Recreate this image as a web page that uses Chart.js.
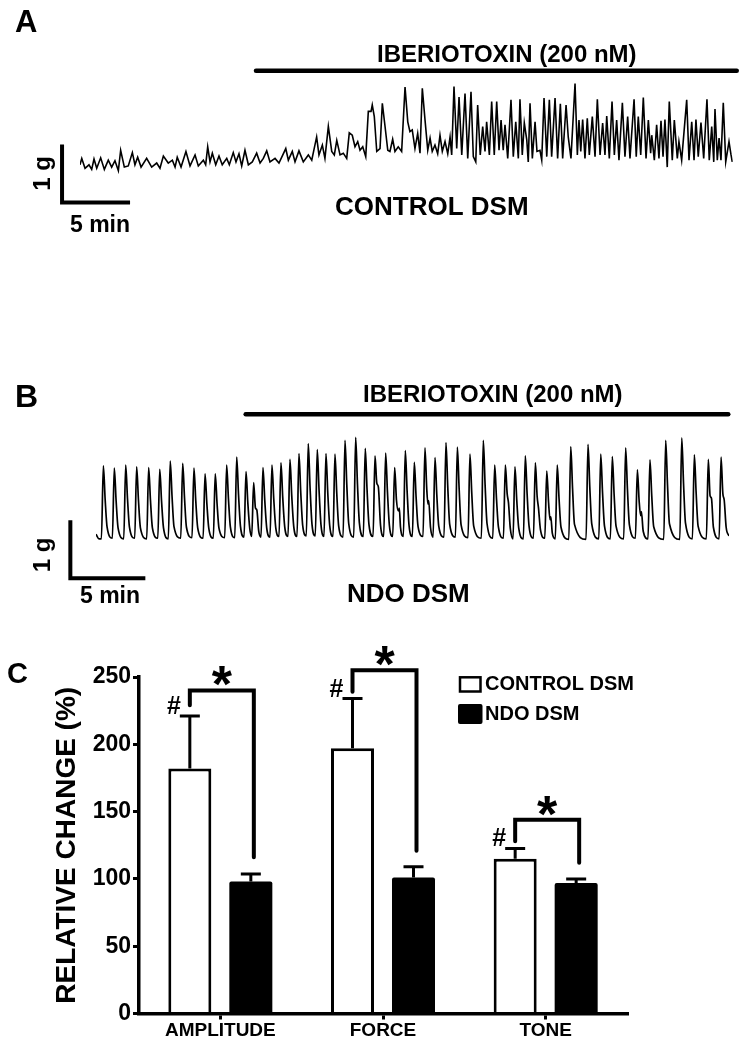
<!DOCTYPE html>
<html>
<head>
<meta charset="utf-8">
<script src="https://cdn.jsdelivr.net/npm/chart.js@4.4.1/dist/chart.umd.min.js"></script>
<style>
  html, body { margin: 0; padding: 0; background: #fff; }
  #wrap { position: relative; width: 744px; height: 1045px; overflow: hidden; }
  canvas { position: absolute; left: 0; }
</style>
</head>
<body>
<div id="wrap">
  <canvas id="traceA" width="744" height="240" style="top:0px"></canvas>
  <canvas id="traceB" width="744" height="280" style="top:340px"></canvas>
  <canvas id="bars" width="744" height="425" style="top:620px"></canvas>
</div>
<script>
// ---- data ----
// trace A: control DSM, [minutes, grams above resting tone]
const traceA = [
  [0.00,0.09],[0.13,0.20],[0.37,0.03],[0.66,0.09],[0.86,0.01],[1.03,0.19],[1.23,0.03],[1.52,0.21],[1.79,0.01],[2.08,0.17],
  [2.33,0.05],[2.57,0.16],[2.82,-0.01],[2.99,0.34],[3.26,0.05],[3.55,0.07],[3.85,0.30],[4.04,0.09],[4.24,0.22],[4.49,0.05],
  [4.90,0.20],[5.27,0.05],[5.64,0.12],[5.88,0.03],[6.13,0.24],[6.49,0.12],[6.79,0.17],[6.99,0.05],[7.15,0.22],[7.43,0.05],
  [7.79,0.32],[8.09,0.07],[8.46,0.26],[8.70,0.07],[9.07,0.17],[9.24,0.09],[9.39,0.40],[9.56,0.14],[9.73,0.29],[9.98,0.09],
  [10.22,0.24],[10.46,0.09],[10.79,0.20],[10.98,0.09],[11.27,0.30],[11.47,0.14],[11.69,0.28],[11.89,0.07],[12.13,0.34],[12.38,0.09],
  [12.67,0.14],[12.99,0.29],[13.24,0.12],[13.48,0.20],[13.73,0.33],[13.97,0.14],[14.34,0.20],[14.63,0.12],[15.13,0.37],[15.32,0.17],
  [15.61,0.32],[15.81,0.14],[16.10,0.33],[16.42,0.14],[16.79,0.26],[17.04,0.17],[17.40,0.57],[17.57,0.26],[17.82,0.43],[18.01,0.20],
  [18.26,0.75],[18.51,0.32],[18.70,0.26],[18.88,0.51],[19.12,0.26],[19.36,0.29],[19.61,0.20],[19.80,0.64],[20.02,0.60],[20.22,0.40],
  [20.42,0.49],[20.59,0.34],[20.79,0.40],[21.01,0.23],[21.20,1.01],[21.40,1.01],[21.49,1.12],[21.64,0.92],[21.82,0.32],[22.06,0.37],
  [22.23,1.15],[22.43,0.75],[22.63,0.34],[22.79,0.32],[22.99,0.53],[23.16,0.32],[23.40,0.40],[23.65,0.32],[23.90,1.43],[24.10,0.83],
  [24.26,0.66],[24.43,0.69],[24.63,0.37],[24.83,0.63],[25.00,0.29],[25.17,1.41],[25.37,0.86],[25.57,0.34],[25.74,0.55],[25.90,0.32],
  [26.10,0.43],[26.30,0.28],[26.47,0.60],[26.64,0.32],[26.84,0.49],[27.04,0.28],[27.21,0.57],[27.33,0.26],[27.50,1.44],[27.70,0.37],
  [27.87,1.26],[28.07,0.26],[28.31,1.32],[28.51,0.20],[28.75,1.35],[28.92,0.23],[29.10,0.14],[29.24,1.12],[29.43,0.26],[29.61,0.75],
  [29.78,0.32],[29.90,0.83],[30.10,0.26],[30.27,1.18],[30.46,0.26],[30.64,1.18],[30.81,0.34],[30.96,0.86],[31.12,0.34],[31.25,0.78],
  [31.45,0.20],[31.69,1.21],[31.86,0.23],[32.04,0.83],[32.23,0.20],[32.35,1.22],[32.52,0.26],[32.67,0.81],[32.85,0.52],[32.96,0.14],
  [33.09,1.15],[33.26,0.20],[33.46,0.83],[33.60,0.32],[33.82,0.34],[33.95,0.17],[34.12,1.24],[34.32,0.23],[34.51,1.21],[34.68,0.23],
  [34.93,1.24],[35.12,0.20],[35.32,1.14],[35.49,0.20],[35.74,1.12],[35.90,0.57],[36.10,0.20],[36.40,1.49],[36.57,0.26],[36.69,0.86],
  [36.82,0.32],[36.96,0.87],[37.13,0.20],[37.30,0.89],[37.45,0.26],[37.67,0.92],[37.87,0.23],[38.04,1.22],[38.24,0.26],[38.43,0.81],
  [38.60,0.26],[38.73,0.93],[38.92,0.20],[39.12,1.18],[39.29,0.26],[39.46,0.86],[39.63,0.17],[39.88,1.16],[40.07,0.23],[40.27,0.92],
  [40.44,0.20],[40.74,1.22],[40.90,0.23],[41.05,0.92],[41.23,0.26],[41.42,1.25],[41.62,0.20],[41.79,0.86],[41.96,0.29],[42.04,0.60],
  [42.23,0.17],[42.40,0.78],[42.57,0.20],[42.72,0.85],[42.87,0.23],[43.01,0.87],[43.18,0.05],[43.33,1.18],[43.55,0.17],[43.70,0.86],
  [43.92,0.20],[44.04,0.49],[44.24,0.17],[44.61,1.21],[44.78,0.17],[44.98,0.83],[45.15,0.17],[45.29,0.87],[45.46,0.23],[45.66,0.82],
  [45.86,0.20],[46.10,1.22],[46.27,0.17],[46.45,0.75],[46.60,0.14],[46.69,1.05],[46.86,0.17],[46.99,0.55],[47.13,0.17],[47.30,1.16],
  [47.48,0.14],[47.72,0.49],[47.87,0.26],[47.96,0.14]
];

// trace B: NDO DSM, one line per contraction (foot, peak, decay...)
const traceB = [
  [0.00,0.10],[0.20,0.02],
  [0.36,0.02],[0.49,1.28],[0.61,0.70],[0.74,0.22],
  [1.09,0.03],[1.22,1.24],[1.34,0.68],[1.47,0.21],
  [1.85,0.02],[1.98,1.29],[2.10,0.71],[2.23,0.22],
  [2.58,0.03],[2.71,1.26],[2.83,0.69],[2.96,0.21],
  [3.38,0.02],[3.51,1.25],[3.63,0.69],[3.76,0.21],
  [4.12,0.03],[4.25,1.22],[4.37,0.67],[4.50,0.21],
  [4.82,0.02],[4.95,1.36],[5.07,0.75],[5.20,0.23],
  [5.65,0.03],[5.78,1.32],[5.90,0.73],[6.03,0.22],
  [6.40,0.04],[6.53,1.24],[6.65,0.68],[6.78,0.21],
  [7.14,0.03],[7.27,1.14],[7.39,0.63],[7.52,0.20],
  [7.82,0.03],[7.95,1.14],[8.07,0.63],[8.20,0.20],
  [8.58,0.04],[8.71,1.29],[8.83,0.71],[8.96,0.22],
  [9.25,0.04],[9.38,1.43],[9.50,0.79],[9.63,0.24],
  [9.87,0.05],[10.00,1.18],[10.12,0.65],[10.25,0.20],
  [10.38,0.06],[10.51,0.99],[10.63,0.55],[10.72,0.52],[10.85,0.15],
  [11.00,0.05],[11.13,1.25],[11.25,0.69],[11.38,0.21],
  [11.60,0.05],[11.73,1.29],[11.85,0.71],[11.98,0.22],
  [12.20,0.06],[12.33,1.33],[12.45,0.73],[12.58,0.23],
  [12.80,0.06],[12.93,1.39],[13.05,0.76],[13.18,0.24],
  [13.40,0.06],[13.53,1.49],[13.65,0.82],[13.78,0.25],
  [14.02,0.07],[14.15,1.66],[14.27,0.91],[14.40,0.27],
  [14.62,0.07],[14.75,1.56],[14.87,0.86],[15.00,0.26],
  [15.20,0.06],[15.33,1.49],[15.45,0.82],[15.58,0.25],
  [15.80,0.06],[15.93,1.48],[16.05,0.81],[16.18,0.24],
  [16.47,0.05],[16.60,1.72],[16.72,0.95],[16.85,0.28],
  [17.18,0.05],[17.31,1.77],[17.43,0.97],[17.56,0.29],
  [17.82,0.06],[17.95,1.58],[18.07,0.87],[18.20,0.26],
  [18.47,0.06],[18.60,1.45],[18.72,0.98],[18.82,0.92],[18.97,0.25],
  [19.18,0.06],[19.31,1.50],[19.43,0.83],[19.56,0.25],
  [19.78,0.06],[19.91,1.25],[20.03,0.69],[20.16,0.50],[20.22,0.55],[20.30,0.22],
  [20.49,0.06],[20.62,1.54],[20.74,0.85],[20.87,0.25],
  [21.09,0.06],[21.22,1.34],[21.34,0.74],[21.47,0.23],
  [21.80,0.06],[21.93,1.59],[22.05,0.88],[22.13,0.62],[22.18,0.68],[22.30,0.22],
  [22.47,0.05],[22.60,1.42],[22.72,0.78],[22.85,0.24],
  [23.20,0.05],[23.33,1.68],[23.45,0.92],[23.58,0.27],
  [23.96,0.05],[24.09,1.60],[24.21,0.88],[24.34,0.26],
  [24.80,0.04],[24.93,1.48],[25.05,0.81],[25.18,0.24],
  [25.69,0.03],[25.82,1.72],[25.94,0.95],[26.07,0.28],
  [26.45,0.03],[26.58,1.29],[26.70,0.71],[26.83,0.22],
  [27.16,0.03],[27.29,1.29],[27.41,0.80],[27.50,0.64],[27.62,0.20],
  [27.80,0.02],[27.93,1.26],[28.05,0.69],[28.18,0.21],
  [28.49,0.02],[28.62,1.45],[28.74,0.80],[28.87,0.24],
  [29.16,0.03],[29.29,1.33],[29.41,0.75],[29.50,0.55],[29.63,0.18],
  [29.92,0.03],[30.05,1.19],[30.17,0.65],[30.27,0.35],[30.32,0.40],[30.42,0.12],
  [30.62,0.02],[30.75,1.29],[30.87,0.71],[31.00,0.22],
  [31.52,0.01],[31.65,1.61],[31.77,0.89],[31.90,0.27],
  [32.67,0.01],[32.80,1.65],[32.92,0.91],[33.05,0.28],
  [33.52,0.02],[33.65,1.48],[33.77,0.81],[33.90,0.24],
  [34.29,0.02],[34.42,1.44],[34.54,0.79],[34.67,0.24],
  [35.18,0.02],[35.31,1.59],[35.43,0.87],[35.56,0.26],
  [35.96,0.03],[36.09,1.21],[36.21,0.67],[36.31,0.42],[36.36,0.49],[36.48,0.15],
  [36.80,0.02],[36.93,1.38],[37.05,0.76],[37.18,0.23],
  [37.85,0.01],[37.98,1.72],[38.10,0.95],[38.23,0.28],
  [38.92,0.01],[39.05,1.76],[39.17,0.97],[39.30,0.29],
  [39.76,0.02],[39.89,1.47],[40.01,0.81],[40.14,0.24],
  [40.69,0.02],[40.82,1.39],[40.94,0.76],[41.03,0.72],[41.16,0.22],
  [41.54,0.02],[41.67,1.43],[41.79,0.80],[41.88,0.69],[42.01,0.22],
  [42.20,0.07]
];

// iberiotoxin application [start min, end min]
const toxinA = [12.94, 48.29];
const toxinB = [9.98, 42.15];

// calibration bars
const scaleMinutes = 5;
const scaleGrams = 1;

// panel C
const categories = ['AMPLITUDE', 'FORCE', 'TONE'];
const controlMean = [182, 197, 115];
const controlSem = [39, 37, 7.6];
const ndoMean = [98, 101, 97];
const ndoSem = [5.7, 8, 3];
// significance brackets: left leg end, top, right leg end (% units)
const bracketLeft = [229, 239, 128];
const bracketTop = [240, 255, 144];
const bracketRight = [116, 121, 112];

const FONT = "'Liberation Sans', Arial, sans-serif";
Chart.defaults.font.family = FONT;
Chart.defaults.color = '#000';

function drawTexts(ctx, texts) {
  texts.forEach(t => {
    ctx.save();
    ctx.font = `bold ${t.size}px ${FONT}`;
    ctx.fillStyle = '#000';
    ctx.textAlign = t.align || 'left';
    ctx.textBaseline = t.baseline || 'alphabetic';
    ctx.translate(t.x, t.y);
    if (t.rotate) ctx.rotate(t.rotate);
    ctx.fillText(t.text, 0, 0);
    ctx.restore();
  });
}

// toxin bar, calibration bars and labels for the force traces
const traceMarks = {
  id: 'traceMarks',
  afterDraw(chart, args, opts) {
    const { ctx } = chart;
    const x = chart.scales.x, y = chart.scales.y;
    ctx.save();
    ctx.strokeStyle = '#000';

    ctx.lineWidth = 4.5;
    ctx.lineCap = 'round';
    ctx.beginPath();
    ctx.moveTo(x.getPixelForValue(opts.toxin[0]), y.getPixelForValue(opts.toxinLevel));
    ctx.lineTo(x.getPixelForValue(opts.toxin[1]), y.getPixelForValue(opts.toxinLevel));
    ctx.stroke();

    const x0 = x.getPixelForValue(opts.calib[0]);
    const y0 = y.getPixelForValue(opts.calib[1]);
    const x1 = x.getPixelForValue(opts.calib[0] + scaleMinutes);
    const y1 = y.getPixelForValue(opts.calib[1] + scaleGrams);
    ctx.lineWidth = 4;
    ctx.lineCap = 'butt';
    ctx.lineJoin = 'miter';
    ctx.beginPath();
    ctx.moveTo(x0, y1);
    ctx.lineTo(x0, y0);
    ctx.lineTo(x1, y0);
    ctx.stroke();
    ctx.restore();

    drawTexts(ctx, opts.texts);
  }
};

function traceChart(id, points, width, tMax, gMin, gMax, padding, marks) {
  return new Chart(document.getElementById(id), {
    type: 'line',
    data: {
      datasets: [{
        data: points.map(p => ({ x: p[0], y: p[1] })),
        borderColor: '#000',
        borderWidth: width,
        pointRadius: 0,
        tension: 0,
        cubicInterpolationMode: id === 'traceB' ? 'monotone' : 'default',
        fill: false
      }]
    },
    options: {
      responsive: false,
      animation: false,
      layout: { padding: padding },
      plugins: { legend: { display: false }, tooltip: { enabled: false }, traceMarks: marks },
      scales: {
        x: { type: 'linear', min: 0, max: tMax, display: false },
        y: { type: 'linear', min: gMin, max: gMax, display: false }
      }
    },
    plugins: [traceMarks]
  });
}

traceChart('traceA', traceA, 1.6, 48, -1, 2.8, { left: 80, right: 11.2, top: 7.6, bottom: 12 }, {
  toxin: toxinA, toxinLevel: 1.71, calib: [-1.32, -0.56],
  texts: [
    { text: 'A', x: 15, y: 32, size: 31 },
    { text: 'IBERIOTOXIN (200 nM)', x: 377, y: 61.5, size: 24 },
    { text: '1 g', x: 43, y: 173.5, size: 24, align: 'center', baseline: 'middle', rotate: -Math.PI / 2 },
    { text: '5 min', x: 100, y: 231.5, size: 23, align: 'center' },
    { text: 'CONTROL DSM', x: 335, y: 215, size: 26 }
  ]
});

traceChart('traceB', traceB, 1.7, 42.2, -1.2, 3.2, { left: 96, right: 15, top: 14.4, bottom: 10.4 }, {
  toxin: toxinB, toxinLevel: 2.17, calib: [-1.71, -0.66],
  texts: [
    { text: 'B', x: 15, y: 67, size: 32 },
    { text: 'IBERIOTOXIN (200 nM)', x: 363, y: 61.7, size: 24 },
    { text: '1 g', x: 43, y: 215, size: 24, align: 'center', baseline: 'middle', rotate: -Math.PI / 2 },
    { text: '5 min', x: 110, y: 263, size: 23, align: 'center' },
    { text: 'NDO DSM', x: 347, y: 261.7, size: 26 }
  ]
});

// error bars, brackets, legend for panel C
const barMarks = {
  id: 'barMarks',
  afterDatasetsDraw(chart) {
    const { ctx } = chart;
    const y = chart.scales.y;
    const m0 = chart.getDatasetMeta(0), m1 = chart.getDatasetMeta(1);
    ctx.save();
    ctx.strokeStyle = '#000';
    ctx.fillStyle = '#000';

    chart.data.datasets.forEach((ds, di) => {
      chart.getDatasetMeta(di).data.forEach((bar, i) => {
        const top = y.getPixelForValue(ds.data[i] + ds.errors[i]);
        ctx.lineWidth = 3;
        ctx.lineCap = 'butt';
        ctx.beginPath();
        ctx.moveTo(bar.x, bar.y);
        ctx.lineTo(bar.x, top);
        ctx.moveTo(bar.x - 10, top);
        ctx.lineTo(bar.x + 10, top);
        ctx.stroke();
      });
    });

    categories.forEach((c, i) => {
      const xl = m0.data[i].x;
      const xr = m1.data[i].x + 3;
      const yl = y.getPixelForValue(bracketLeft[i]);
      const yt = y.getPixelForValue(bracketTop[i]);
      const yr = y.getPixelForValue(bracketRight[i]);
      ctx.lineWidth = 4;
      ctx.lineJoin = 'miter';
      ctx.lineCap = 'round';
      ctx.beginPath();
      ctx.moveTo(xl, yl);
      ctx.lineTo(xl, yt);
      ctx.lineTo(xr, yt);
      ctx.lineTo(xr, yr);
      ctx.stroke();

      ctx.font = `bold 52px ${FONT}`;
      ctx.textAlign = 'center';
      ctx.textBaseline = 'alphabetic';
      let mt = ctx.measureText('*');
      const cy = yt - 14;
      ctx.fillText('*', (xl + xr) / 2, cy + (mt.actualBoundingBoxAscent - mt.actualBoundingBoxDescent) / 2);

      const capY = y.getPixelForValue(controlMean[i] + controlSem[i]);
      ctx.font = `bold 25px ${FONT}`;
      ctx.textAlign = 'right';
      mt = ctx.measureText('#');
      ctx.fillText('#', xl - 9, capY - 2 - mt.actualBoundingBoxDescent);
    });
    ctx.restore();
  },
  afterDraw(chart) {
    const { ctx } = chart;
    ctx.save();
    ctx.strokeStyle = '#000';
    ctx.lineWidth = 2.5;
    ctx.fillStyle = '#fff';
    ctx.fillRect(460, 57.3, 20.5, 14.2);
    ctx.strokeRect(460, 57.3, 20.5, 14.2);
    ctx.fillStyle = '#000';
    ctx.beginPath();
    ctx.roundRect(458, 84, 24.5, 20, 2);
    ctx.fill();
    ctx.restore();
    const names = chart.data.datasets.map(d => d.label);
    drawTexts(ctx, [
      { text: names[0], x: 485, y: 64.5, size: 20, baseline: 'middle' },
      { text: names[1], x: 485, y: 94, size: 20, baseline: 'middle' },
      { text: 'C', x: 7, y: 63, size: 29 }
    ]);
  }
};

new Chart(document.getElementById('bars'), {
  type: 'bar',
  data: {
    labels: categories,
    datasets: [
      { label: 'CONTROL DSM', data: controlMean, errors: controlSem, backgroundColor: '#fff', borderColor: '#000', borderWidth: 3 },
      { label: 'NDO DSM', data: ndoMean, errors: ndoSem, backgroundColor: '#000', borderColor: '#000', borderWidth: 0, borderRadius: 2 }
    ]
  },
  options: {
    responsive: false,
    animation: false,
    layout: { padding: { left: 50, right: 117, top: 57, bottom: 0 } },
    datasets: { bar: { categoryPercentage: 0.75, barPercentage: 0.705 } },
    plugins: { legend: { display: false }, tooltip: { enabled: false } },
    scales: {
      x: {
        grid: { offset: false, drawOnChartArea: false, tickLength: 6, lineWidth: 3, color: '#000' },
        border: { width: 3.5, color: '#000' },
        ticks: { color: '#000', font: { size: 19, weight: 'bold' }, padding: 0 },
        afterFit: s => { s.height = 31.5; }
      },
      y: {
        min: 0, max: 250,
        grid: { drawOnChartArea: false, tickLength: 6, lineWidth: 3, color: '#000' },
        border: { width: 3.5, color: '#000' },
        ticks: { stepSize: 50, color: '#000', font: { size: 23, weight: 'bold' }, padding: 2 },
        title: { display: true, text: 'RELATIVE CHANGE (%)', color: '#000', font: { size: 28, weight: 'bold' }, padding: 0 },
        afterFit: s => { s.width = 89; }
      }
    }
  },
  plugins: [barMarks]
});
</script>
</body>
</html>
